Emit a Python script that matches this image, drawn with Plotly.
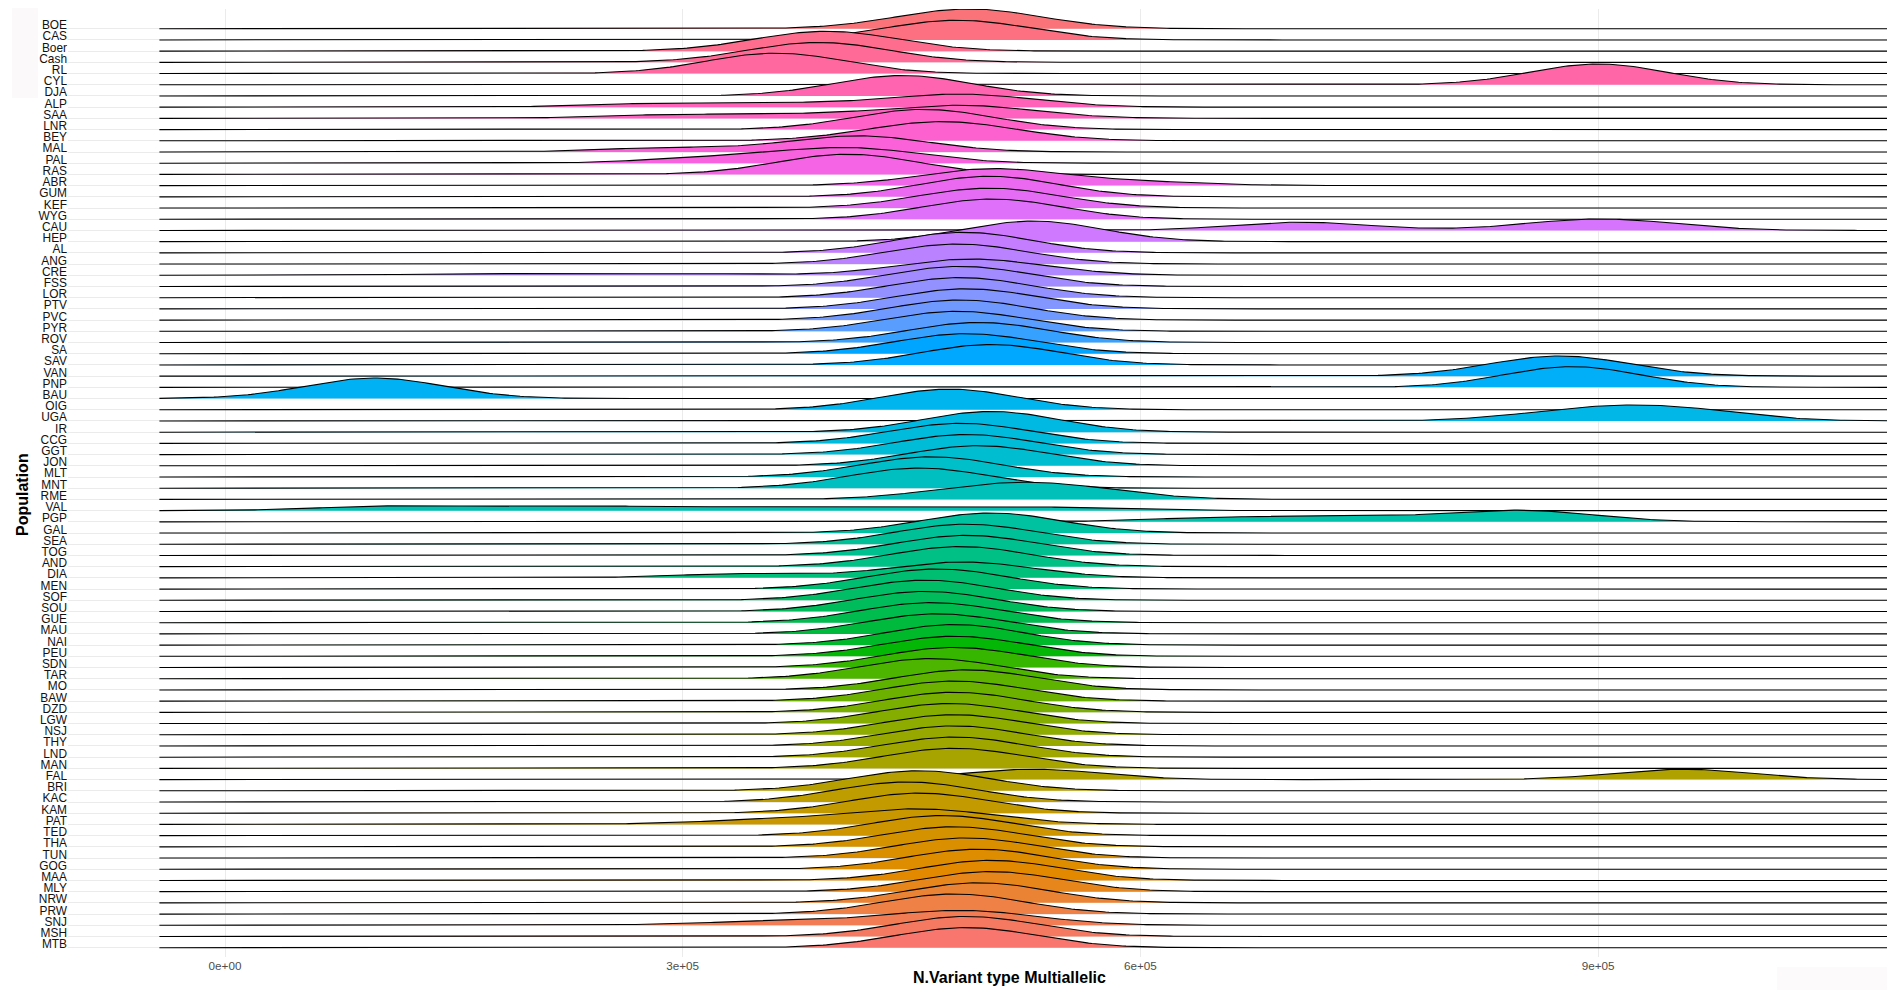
import math
import numpy as np
import plotly.graph_objects as go

# ---------------- data (top row first) ----------------
populations = ["BOE", "CAS", "Boer", "Cash", "RL", "CYL", "DJA", "ALP", "SAA", "LNR",
               "BEY", "MAL", "PAL", "RAS", "ABR", "GUM", "KEF", "WYG", "CAU", "HEP",
               "AL", "ANG", "CRE", "FSS", "LOR", "PTV", "PVC", "PYR", "ROV", "SA",
               "SAV", "VAN", "PNP", "BAU", "OIG", "UGA", "IR", "CCG", "GGT", "JON",
               "MLT", "MNT", "RME", "VAL", "PGP", "GAL", "SEA", "TOG", "AND", "DIA",
               "MEN", "SOF", "SOU", "GUE", "MAU", "NAI", "PEU", "SDN", "TAR", "MO",
               "BAW", "DZD", "LGW", "NSJ", "THY", "LND", "MAN", "FAL", "BRI", "KAC",
               "KAM", "PAT", "TED", "THA", "TUN", "GOG", "MAA", "MLY", "NRW", "PRW",
               "SNJ", "MSH", "MTB"]

# number of multiallelic variants per sample, per population (same order)
multiallelic_counts = [
    [470000, 488000, 505000],                      # BOE
    [462000, 480000, 498000],                      # CAS
    [378000, 394000, 410000],                      # Boer
    [373000, 389000, 405000],                      # Cash
    [351000, 361000, 371000],                      # RL
    [900000],                                      # CYL
    [435000, 444000, 453000],                      # DJA
    [280000, 370000, 460000, 475000, 490000, 505000],  # ALP
    [290000, 380000, 460000, 475000, 490000, 505000],  # SAA
    [445000, 458000, 471000],                      # LNR
    [448000, 470000, 492000],                      # BEY
    [290000, 400000, 410000, 420000, 430000],      # MAL
    [320000, 395000, 410000, 425000],              # PAL
    [395000, 408000, 421000],                      # RAS
    [485000, 495000, 502000, 510000, 520000, 600000],  # ABR
    [494000, 501000, 508000],                      # GUM
    [485000, 501000, 517000],                      # KEF
    [490000, 503000, 516000],                      # WYG
    [700000, 710000, 880000, 900000, 925000],      # CAU
    [525000, 535000],                              # HEP
    [478000, 490000],                              # AL
    [465000, 480000, 495000],                      # ANG
    [170000, 300000, 465000, 470000, 478000, 482000, 486000, 490000,
     495000, 500000, 510000, 520000],              # CRE
    [468000, 482000, 496000],                      # FSS
    [468000, 482000, 496000],                      # LOR
    [472000, 486000, 500000],                      # PTV
    [468000, 482000, 496000],                      # PVC
    [465000, 480000, 495000],                      # PYR
    [480000, 494000, 508000],                      # ROV
    [472000, 486000, 500000],                      # SA
    [492000, 502000, 512000],                      # SAV
    [862000, 875000, 888000],                      # VAN
    [880000, 886000],                              # PNP
    [92000, 104000],                               # BAU
    [470000, 480000],                              # OIG
    [880000, 925000, 962000],                      # UGA
    [502000],                                      # IR
    [468000, 482000, 496000],                      # CCG
    [472000, 486000, 500000],                      # GGT
    [480000, 494000, 508000],                      # JON
    [450000, 463000, 476000],                      # MLT
    [442000, 455000, 468000],                      # MNT
    [490000, 525000, 560000],                      # RME
    [95000, 120000, 205000, 225000, 300000, 365000, 430000, 490000, 550000],  # VAL
    [640000, 700000, 760000, 830000, 845000, 855000, 870000],  # PGP
    [488000, 502000, 516000],                      # GAL
    [472000, 486000, 500000],                      # SEA
    [472000, 486000, 500000],                      # TOG
    [468000, 482000, 496000],                      # AND
    [340000, 465000, 478000, 490000, 500000],      # DIA
    [453000, 467000, 481000],                      # MEN
    [445000, 459000, 473000],                      # SOF
    [445000, 459000, 473000],                      # SOU
    [449000, 463000, 477000],                      # GUE
    [453000, 467000, 481000],                      # MAU
    [472000, 484000],                              # NAI
    [464000, 478000, 492000],                      # PEU
    [464000, 478000, 492000],                      # SDN
    [450000, 463000, 476000],                      # TAR
    [472000, 486000, 500000],                      # MO
    [464000, 478000, 492000],                      # BAW
    [464000, 478000, 492000],                      # DZD
    [461000, 475000, 489000],                      # LGW
    [464000, 478000, 492000],                      # NSJ
    [464000, 478000, 492000],                      # THY
    [464000, 478000, 492000],                      # LND
    [464000, 478000, 492000],                      # MAN
    [530000, 955000],                              # FAL
    [441000, 455000, 469000],                      # BRI
    [433000, 447000, 461000],                      # KAC
    [441000, 455000, 469000],                      # KAM
    [340000, 400000, 440000, 450000, 460000, 470000, 480000],  # PAT
    [456000, 470000, 484000],                      # TED
    [464000, 478000, 492000],                      # THA
    [472000, 486000, 500000],                      # TUN
    [480000, 494000, 508000],                      # GOG
    [488000, 502000, 516000],                      # MAA
    [488000, 502000, 516000],                      # MLY
    [480000, 494000, 508000],                      # NRW
    [464000, 478000, 492000],                      # PRW
    [340000, 400000, 455000, 470000, 480000, 490000, 500000, 510000],  # SNJ
    [472000, 486000, 500000],                      # MSH
    [472000, 486000, 500000],                      # MTB
]

x_tick_values = [0, 300000, 600000, 900000]
x_tick_labels = ["0e+00", "3e+05", "6e+05", "9e+05"]

x_title = "N.Variant type Multiallelic"
y_title = "Population"

# ---------------- style / stat parameters ----------------
BANDWIDTH = 45000          # joint KDE bandwidth
RIDGE_SCALE = 1.85         # tallest ridge height, in rows
N_GRID = 512
FONT = "Liberation Sans, Arial, Helvetica, sans-serif"

OFF = 8                    # browser body margin (page px -> figure px)
W, H = 1895 - 2 * OFF, 998 - 2 * OFF
PLOT_L, PLOT_R, PLOT_T, PLOT_B = 68 - OFF, W, 9 - OFF, 957 - OFF
ROW_PX = 11.207
BASE_BOTTOM_PX = 947.7 - OFF     # pixel row of the bottom baseline
ZERO_PX = 225 - OFF              # pixel column of x = 0
PX_PER_3E5 = 457.7


def hue_colour(h, c=100.0, l=65.0):
    """polar CIE-Luv -> sRGB hex (ggplot2 default hue palette)."""
    hr = math.radians(h)
    u, v = c * math.cos(hr), c * math.sin(hr)
    xn, yn, zn = 95.047, 100.0, 108.883
    y = yn * ((l + 16) / 116) ** 3 if l > 8 else yn * l / 903.3
    den = xn + 15 * yn + 3 * zn
    un, vn = 4 * xn / den, 9 * yn / den
    up, vp = u / (13 * l) + un, v / (13 * l) + vn
    x = 9 * y * up / (4 * vp)
    z = y * (12 - 3 * up - 20 * vp) / (4 * vp)
    x, y, z = x / 100, y / 100, z / 100
    rgb = [3.240479 * x - 1.537150 * y - 0.498535 * z,
           -0.969256 * x + 1.875992 * y + 0.041556 * z,
           0.055648 * x - 0.204043 * y + 1.057311 * z]
    out = []
    for ch in rgb:
        ch = 1.055 * ch ** (1 / 2.4) - 0.055 if ch > 0.0031308 else 12.92 * ch
        out.append(int(round(min(max(ch, 0), 1) * 255)))
    return "#%02X%02X%02X" % tuple(out)


n = len(populations)
hues = [15 + 360.0 * i / n for i in range(n)]          # level 1 = bottom row
level_of = {p: n - 1 - i for i, p in enumerate(populations)}

all_vals = np.concatenate([np.asarray(v, float) for v in multiallelic_counts])
lo = all_vals.min() - 3 * BANDWIDTH
hi = all_vals.max() + 3 * BANDWIDTH
grid = np.linspace(lo, hi, N_GRID)


def kde(vals):
    v = np.asarray(vals, float)[:, None]
    k = np.exp(-0.5 * ((grid[None, :] - v) / BANDWIDTH) ** 2) / (BANDWIDTH * math.sqrt(2 * math.pi))
    return k.mean(axis=0)


dens = [kde(v) for v in multiallelic_counts]
max_d = max(d.max() for d in dens)

fig = go.Figure()
for pop, d in zip(populations, dens):          # top row first -> lower rows drawn over
    k = level_of[pop]
    col = hue_colour(hues[k])
    top = k + d / max_d * RIDGE_SCALE
    fig.add_trace(go.Scatter(
        x=np.concatenate([grid, grid[::-1]]),
        y=np.concatenate([top, np.full(N_GRID, float(k))]),
        fill="toself", fillcolor=col, mode="lines",
        line=dict(width=0, color=col), hoverinfo="skip", showlegend=False))
    fig.add_trace(go.Scatter(
        x=grid, y=top, mode="lines", name=pop,
        line=dict(color="black", width=1.1),
        hovertemplate=pop + "<extra></extra>", showlegend=False))

x_per_px = 300000 / PX_PER_3E5
x0 = -(ZERO_PX - PLOT_L) * x_per_px
x1 = x0 + (PLOT_R - PLOT_L) * x_per_px
y_bottom = (BASE_BOTTOM_PX - PLOT_B) / ROW_PX
y_top = (BASE_BOTTOM_PX - PLOT_T) / ROW_PX

y_levels = [level_of[p] for p in populations]

PW, PH = PLOT_R - PLOT_L, PLOT_B - PLOT_T


def px_x(px):   # page px -> paper x
    return (px - OFF - PLOT_L) / PW


def px_y(py):   # page px -> paper y
    return (PLOT_B - (py - OFF)) / PH


fig.update_layout(
    width=W, height=H, autosize=False,
    margin=dict(l=PLOT_L, r=W - PLOT_R, t=PLOT_T, b=H - PLOT_B, pad=0),
    paper_bgcolor="white", plot_bgcolor="white",
    font=dict(family=FONT),
    xaxis=dict(range=[x0, x1], tickmode="array", tickvals=x_tick_values, ticktext=x_tick_labels,
               showgrid=True, gridcolor="#EBEBEB", gridwidth=1, zeroline=False, showline=False,
               ticks="", tickfont=dict(size=11.7, color="#4D4D4D", family=FONT)),
    yaxis=dict(range=[y_bottom, y_top], tickmode="array",
               tickvals=[lv + 0.33 for lv in y_levels], ticktext=populations,
               showgrid=False, zeroline=False, showline=False, ticks="",
               tickfont=dict(size=11.9, color="#111111", family=FONT),
               minor=dict(tickmode="array", tickvals=y_levels, showgrid=True,
                          gridcolor="#EBEBEB", gridwidth=1)),
    shapes=[
        dict(type="rect", xref="paper", yref="paper", layer="below",
             x0=px_x(12), x1=px_x(38), y0=px_y(98), y1=px_y(8),
             fillcolor="#FBF9F9", line=dict(width=0)),
        dict(type="rect", xref="paper", yref="paper", layer="below",
             x0=px_x(1777), x1=1.0, y0=px_y(990), y1=px_y(967),
             fillcolor="#FCFAFA", line=dict(width=0)),
    ],
    annotations=[
        dict(text="<b>%s</b>" % x_title, xref="paper", yref="paper",
             x=px_x(1009), y=px_y(978),
             xanchor="center", yanchor="middle", showarrow=False, borderpad=0,
             font=dict(size=16, color="black", family=FONT)),
        dict(text="<b>%s</b>" % y_title, xref="paper", yref="paper",
             x=px_x(22), y=px_y(495),
             xanchor="center", yanchor="middle", textangle=-90, showarrow=False,
             font=dict(size=16, color="black", family=FONT)),
    ],
)

fig.write_html("out.html")
